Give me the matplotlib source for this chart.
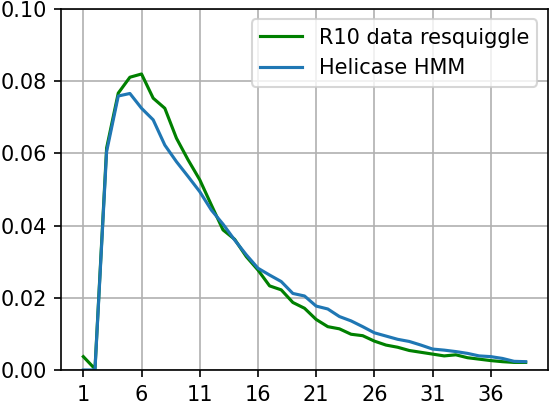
import matplotlib
matplotlib.use("Agg")
import matplotlib.pyplot as plt
import numpy as np

# positions 1..39
positions = np.arange(1, 40)

r10_resquiggle = [0.0037, 0.0003, 0.0615, 0.0767, 0.0811, 0.0820, 0.0753, 0.0725,
                  0.0642, 0.0582, 0.0527, 0.0457, 0.0388, 0.0362, 0.0314, 0.0277,
                  0.0233, 0.0222, 0.0187, 0.0171, 0.0140, 0.0120, 0.0114, 0.0099,
                  0.0095, 0.0080, 0.0069, 0.0063, 0.0054, 0.0049, 0.0044, 0.0039,
                  0.0042, 0.0034, 0.0030, 0.0026, 0.0023, 0.0021, 0.0021]

helicase_hmm = [0.0000, 0.0000, 0.0605, 0.0759, 0.0766, 0.0725, 0.0693, 0.0623,
                0.0577, 0.0536, 0.0494, 0.0443, 0.0404, 0.0360, 0.0319, 0.0282,
                0.0263, 0.0245, 0.0212, 0.0205, 0.0177, 0.0169, 0.0148, 0.0136,
                0.0120, 0.0103, 0.0094, 0.0085, 0.0079, 0.0069, 0.0058, 0.0055,
                0.0051, 0.0046, 0.0039, 0.0037, 0.0032, 0.0024, 0.0023]

dpi = 150
fig, ax = plt.subplots(figsize=(550 / dpi, 404 / dpi), dpi=dpi)
fig.subplots_adjust(left=0.1113, right=0.996, bottom=0.0842, top=0.9777)

ax.plot(positions, r10_resquiggle, color="green", label="R10 data resquiggle")
ax.plot(positions, helicase_hmm, color="#1f77b4", label="Helicase HMM")

ax.set_ylim(0, 0.10)
ax.set_xticks(np.arange(1, 40, 5))
ax.grid(True)
ax.legend(loc="upper right")

plt.savefig("out.png", dpi=dpi)
